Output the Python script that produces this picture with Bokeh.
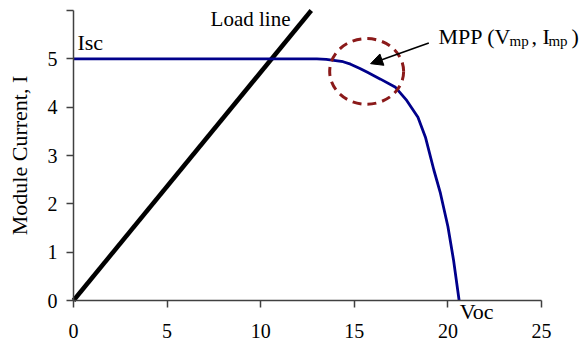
from bokeh.plotting import figure
from bokeh.models import Range1d, FixedTicker, Label, Arrow, NormalHead
from bokeh.embed import file_html
from bokeh.resources import INLINE

# ---- data ----
iv_voltage = [0, 13.0, 13.5, 13.9, 14.4, 14.8, 15.3, 15.7, 16.4, 17.2, 17.8, 18.4, 18.8, 19.25, 19.6, 20.0, 20.3, 20.6]
iv_current = [5.0, 5.0, 4.99, 4.97, 4.94, 4.89, 4.80, 4.72, 4.58, 4.41, 4.14, 3.79, 3.38, 2.70, 2.22, 1.53, 0.84, 0.0]
load_voltage = [0, 12.7]
load_current = [0, 6.0]
mpp_v = [15.66]
mpp_i = [4.74]
x_ticks = [0, 5, 10, 15, 20, 25]
y_ticks = [0, 1, 2, 3, 4, 5, 6]
x_axis_max = 25
y_axis_max = 6

FONT = "Liberation Serif"

# ---- layout (pixels) ----
W, H = 584, 344
ORIGIN_X, ORIGIN_Y = 73, 300       # pixel position of (0, 0)
AXIS_W, AXIS_H = 468, 290          # pixel length of the 0..25 and 0..6 axes
px_per_v = AXIS_W / x_axis_max
px_per_i = AXIS_H / y_axis_max
x_start = -ORIGIN_X / px_per_v
x_end = (W - ORIGIN_X) / px_per_v
y_start = -(H - ORIGIN_Y) / px_per_i
y_end = ORIGIN_Y / px_per_i

p = figure(width=W, height=H, output_backend="svg", toolbar_location=None,
           x_range=Range1d(x_start, x_end), y_range=Range1d(y_start, y_end),
           min_border_left=0, min_border_right=0, min_border_top=0, min_border_bottom=0)
p.outline_line_color = None
p.xgrid.visible = False
p.ygrid.visible = False
p.background_fill_color = "white"
p.border_fill_color = "white"

# curves
p.line(load_voltage, load_current, line_color="black", line_width=4.5)
p.line(iv_voltage, iv_current, line_color="#00008B", line_width=2.8)

# MPP circle
p.ellipse(x=mpp_v, y=mpp_i, width=3.95, height=1.36, fill_alpha=0,
          line_color="#8B1A1A", line_width=3, line_dash="9 6")

# arrow
p.add_layout(Arrow(x_start=18.98, y_start=5.33, x_end=15.87, y_end=4.90,
                   line_color="black", line_width=1.6,
                   end=NormalHead(size=12, fill_color="black", line_color="black")))

# axes
for ax in (p.xaxis[0], p.yaxis[0]):
    ax.axis_line_color = "#404040"
    ax.axis_line_width = 1.5
    ax.major_tick_line_color = "#404040"
    ax.major_tick_line_width = 1.5
    ax.major_tick_out = 7
    ax.major_tick_in = 0
    ax.minor_tick_line_color = None
    ax.major_label_text_font = FONT
    ax.major_label_text_font_size = "20px"
    ax.major_label_text_color = "black"
    ax.fixed_location = 0

p.xaxis.ticker = FixedTicker(ticks=x_ticks)
p.yaxis.ticker = FixedTicker(ticks=y_ticks)
p.xaxis.bounds = (0, x_axis_max)
p.yaxis.bounds = (0, y_axis_max)
p.yaxis.major_label_overrides = {6: ""}
p.xaxis.major_label_standoff = 16
p.yaxis.major_label_standoff = 9
p.yaxis.axis_label = "Module Current, I"
p.yaxis.axis_label_text_font = FONT
p.yaxis.axis_label_text_font_size = "22px"
p.yaxis.axis_label_text_font_style = "normal"
p.yaxis.axis_label_text_color = "black"
p.yaxis.axis_label_standoff = 13

# annotations
def lab(x, y, text, size="22px", align="left", baseline="alphabetic"):
    p.add_layout(Label(x=x, y=y, text=text, text_font=FONT, text_font_size=size,
                       text_color="black", text_align=align, text_baseline=baseline))

lab(0.21, 5.33, "Isc")
lab(11.59, 5.82, "Load line", size="21px", align="right")
lab(20.63, -0.22, "Voc")
lab(19.5, 5.46, "MPP (V")
lab(23.29, 5.37, "mp", size="15px")
lab(24.47, 5.46, ", I")
lab(25.37, 5.37, "mp", size="15px")
lab(26.6, 5.46, ")")

open("out.html", "w").write(file_html(p, INLINE))
